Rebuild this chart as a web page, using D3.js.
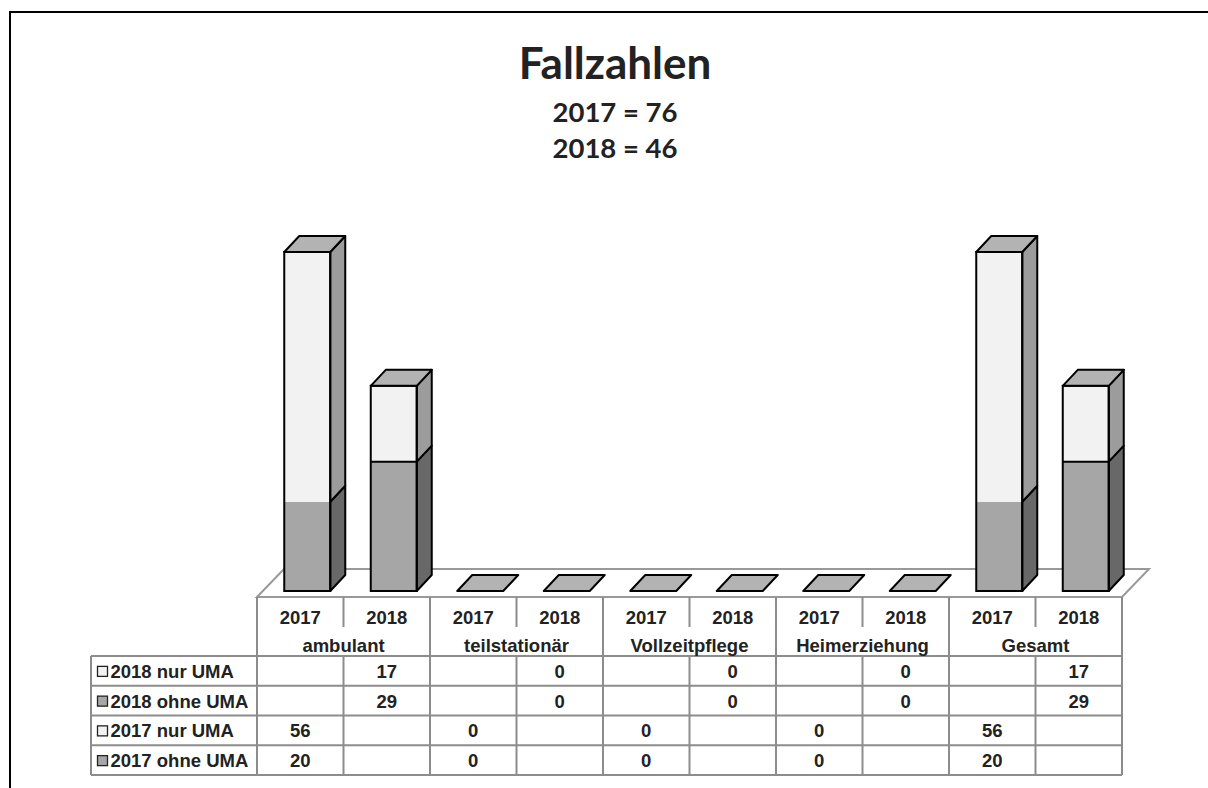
<!DOCTYPE html>
<html>
<head>
<meta charset="utf-8">
<script src="https://cdn.jsdelivr.net/npm/d3@7"></script>
<style>
  body { margin: 0; background: #fff; }
  svg text { font-family: "Liberation Sans", Arial, sans-serif; font-weight: bold; fill: #222; }
  svg text.title { font-family: Lato, "Open Sans", sans-serif; }
</style>
</head>
<body>
<svg id="chart" width="1208" height="788"></svg>
<script>
const categories = ["ambulant", "teilstationär", "Vollzeitpflege", "Heimerziehung", "Gesamt"];
const years = ["2017", "2018"];
const ohne2017 = [20, 0, 0, 0, 20];
const nur2017 = [56, 0, 0, 0, 56];
const ohne2018 = [29, 0, 0, 0, 29];
const nur2018 = [17, 0, 0, 0, 17];
const titleLines = ["2017 = 76", "2018 = 46"];

const svg = d3.select("#chart");
const fs = 18.5;

// frame (cut off at right/bottom like the source)
svg.append("path")
    .attr("d", "M10,800 L10,12 L1220,12")
    .attr("fill", "none").attr("stroke", "#000").attr("stroke-width", 2);

// title
svg.append("text").attr("class", "title")
    .attr("x", 615).attr("y", 79).attr("text-anchor", "middle")
    .attr("font-size", 44).text("Fallzahlen");
svg.selectAll(".sub").data(titleLines).enter().append("text")
    .attr("class", "title sub")
    .attr("x", 615).attr("y", (d, i) => 122 + i * 36)
    .attr("text-anchor", "middle").attr("font-size", 27.5).text(d => d);

// columns: one per category/year
const keys = [];
categories.forEach((c, ci) => years.forEach((y, yi) => keys.push({cat: c, ci, year: y, yi})));
const x = d3.scaleBand().domain(keys.map(k => k.cat + "|" + k.year)).range([257, 1122]).padding(0);
const y = d3.scaleLinear().domain([0, 76]).range([591, 252]);

// floor
const fy = 597, fdx = 27, fdy = -28;
svg.append("path")
    .attr("d", `M257,${fy} L${257 + fdx},${fy + fdy} L${1122 + fdx},${fy + fdy} L1122,${fy} Z`)
    .attr("fill", "#fff").attr("stroke", "#999").attr("stroke-width", 2);

// bars
const dx = 15, dy = -16, bw = 46, off = 7;
const stacks = keys.map(k => {
  const lo = k.yi === 0 ? ohne2017[k.ci] : ohne2018[k.ci];
  const hi = k.yi === 0 ? nur2017[k.ci] : nur2018[k.ci];
  return {k, segs: [{v0: 0, v1: lo, front: "#a6a6a6", side: "#686868"},
                    {v0: lo, v1: lo + hi, front: "#f2f2f2", side: "#9c9c9c"}]};
});

const g = svg.append("g");
stacks.forEach(s => {
  const cx = x(s.k.cat + "|" + s.k.year) + x.bandwidth() / 2 + off;
  const x0 = cx - bw / 2, x1 = cx + bw / 2;
  const total = s.segs[1].v1;
  if (total === 0) {
    const yb = y(0);
    g.append("path")
        .attr("d", `M${x0},${yb} L${x1},${yb} L${x1 + dx},${yb + dy} L${x0 + dx},${yb + dy} Z`)
        .attr("fill", "#b3b3b3").attr("stroke", "#000").attr("stroke-width", 2).attr("stroke-linejoin", "round");
    return;
  }
  const segs = s.segs.filter(d => d.v1 > d.v0);
  segs.forEach(d => {
    const yb = y(d.v0), yt = y(d.v1);
    g.append("rect").attr("x", x0).attr("y", yt).attr("width", bw).attr("height", yb - yt)
        .attr("fill", d.front);
    g.append("path")
        .attr("d", `M${x1},${yb} L${x1 + dx},${yb + dy} L${x1 + dx},${yt + dy} L${x1},${yt} Z`)
        .attr("fill", d.side).attr("stroke", "#000").attr("stroke-width", 2).attr("stroke-linejoin", "round");
  });
  // 2018 bars show the split line on the front face, 2017 bars do not
  if (s.k.yi === 1 && segs.length > 1) {
    const ys = y(segs[0].v1);
    g.append("line").attr("x1", x0).attr("x2", x1).attr("y1", ys).attr("y2", ys)
        .attr("stroke", "#000").attr("stroke-width", 2);
  }
  const yt = y(total);
  g.append("rect").attr("x", x0).attr("y", yt).attr("width", bw).attr("height", y(0) - yt)
      .attr("fill", "none").attr("stroke", "#000").attr("stroke-width", 2);
  g.append("path")
      .attr("d", `M${x0},${yt} L${x0 + dx},${yt + dy} L${x1 + dx},${yt + dy} L${x1},${yt} Z`)
      .attr("fill", "#b3b3b3").attr("stroke", "#000").attr("stroke-width", 2).attr("stroke-linejoin", "round");
});

// data table
const lineCol = "#8c8c8c";
const t = svg.append("g").attr("stroke", lineCol).attr("stroke-width", 2);
const rowTop = 656, rowH = 29.75, tableBottom = rowTop + rowH * 4;
const catW = x.bandwidth() * 2;

// year separators (only in the year row)
keys.forEach(k => {
  const xs = x(k.cat + "|" + k.year);
  if (k.yi === 1) t.append("line").attr("x1", xs).attr("x2", xs).attr("y1", fy).attr("y2", 627);
});
// category separators
categories.forEach(c => {
  const xs = x(c + "|2017");
  t.append("line").attr("x1", xs).attr("x2", xs).attr("y1", fy).attr("y2", tableBottom);
});
t.append("line").attr("x1", 1122).attr("x2", 1122).attr("y1", fy).attr("y2", tableBottom);
// data-row verticals for year columns
keys.filter(k => k.yi === 1).forEach(k => {
  const xs = x(k.cat + "|" + k.year);
  t.append("line").attr("x1", xs).attr("x2", xs).attr("y1", rowTop).attr("y2", tableBottom);
});
// legend column left border
t.append("line").attr("x1", 91).attr("x2", 91).attr("y1", rowTop).attr("y2", tableBottom);
// horizontal lines
d3.range(5).forEach(i => {
  t.append("line").attr("x1", 91).attr("x2", 1122)
      .attr("y1", rowTop + i * rowH).attr("y2", rowTop + i * rowH);
});

// year and category labels
svg.selectAll(".yr").data(keys).enter().append("text")
    .attr("x", k => x(k.cat + "|" + k.year) + x.bandwidth() / 2)
    .attr("y", 624).attr("text-anchor", "middle").attr("font-size", fs).text(k => k.year);
svg.selectAll(".cat").data(categories).enter().append("text")
    .attr("x", c => x(c + "|2017") + catW / 2)
    .attr("y", 652).attr("text-anchor", "middle").attr("font-size", fs).text(c => c);

// rows
const rows = [
  {label: "2018 nur UMA", yi: 1, vals: nur2018, fill: "#f2f2f2"},
  {label: "2018 ohne UMA", yi: 1, vals: ohne2018, fill: "#a6a6a6"},
  {label: "2017 nur UMA", yi: 0, vals: nur2017, fill: "#f2f2f2"},
  {label: "2017 ohne UMA", yi: 0, vals: ohne2017, fill: "#a6a6a6"}
];
rows.forEach((r, ri) => {
  const cy = rowTop + ri * rowH + rowH / 2;
  svg.append("rect").attr("x", 97.5).attr("y", cy - 4.5).attr("width", 10).attr("height", 10)
      .attr("fill", r.fill).attr("stroke", "#222").attr("stroke-width", 1.3);
  svg.append("text").attr("x", 110.5).attr("y", cy + 7).attr("font-size", fs).text(r.label);
  categories.forEach((c, ci) => {
    svg.append("text")
        .attr("x", x(c + "|" + years[r.yi]) + x.bandwidth() / 2)
        .attr("y", cy + 7).attr("text-anchor", "middle").attr("font-size", fs)
        .text(r.vals[ci]);
  });
});
</script>
</body>
</html>
